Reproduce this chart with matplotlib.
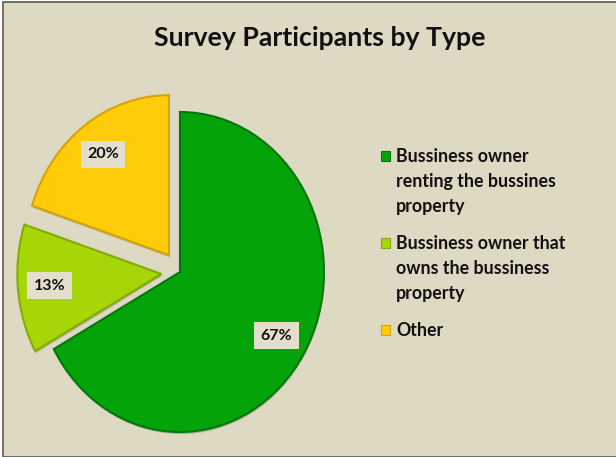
import matplotlib.pyplot as plt
import matplotlib.patheffects as pe
from matplotlib.patches import Rectangle

categories = [
    "Bussiness owner\nrenting the bussines\nproperty",
    "Bussiness owner that\nowns the bussiness\nproperty",
    "Other",
]
shares = [67, 13, 20]
explode = [0.0, 0.13, 0.13]
colors = ["#04A30A", "#A6D608", "#FFCC0A"]
edges = ["#02780A", "#84AA04", "#D6A400"]

W, H = 616, 457
fig = plt.figure(figsize=(W / 100, H / 100), dpi=100, facecolor="white")

# chart area with dark frame
fig.patches.append(Rectangle((3 / W, 0), 1, (H - 2) / H, transform=fig.transFigure, zorder=-10,
                             facecolor="#DDD9C3", edgecolor="#5A5A50", linewidth=1.2))

fig.text(320 / W, 1 - 38 / H, "Survey Participants by Type", ha="center", va="center",
         fontsize=19.2, fontweight="bold", family="Lato", color="#111111")

# pie is slightly taller than wide: 1 unit = 144 px across, 160 px down
cx, cy, rx, ry = 180, 272, 144, 160
xl, yl = 1.25, 1.15
ax = fig.add_axes([(cx - xl * rx) / W, (H - cy - yl * ry) / H, 2 * xl * rx / W, 2 * yl * ry / H])
ax.set_facecolor("none")

wedges, autotexts = ax.pie(shares, explode=explode, colors=colors, startangle=90, counterclock=False,
                           autopct=lambda p: f"{p:.0f}%", pctdistance=0.78, labels=None)[0::2]
ax.set_aspect("auto")
ax.set_xlim(-xl, xl)
ax.set_ylim(-yl, yl)
ax.axis("off")

for w, ec in zip(wedges, edges):
    w.set_edgecolor(ec)
    w.set_linewidth(1.5)
    w.set_path_effects([pe.SimplePatchShadow(offset=(0.5, -1.5), alpha=0.25, shadow_rgbFace="#333322"),
                        pe.Normal()])

for t in autotexts:
    t.set_fontsize(11.5)
    t.set_fontweight("bold")
    t.set_family("Lato")
    t.set_color("#111111")
    t.set_bbox(dict(boxstyle="square,pad=0.4", facecolor="#E3DFCC", edgecolor="none"))

# legend: square marker beside the first line of each entry
y = 162
for label, c, ec in zip(categories, colors, edges):
    fig.patches.append(Rectangle((381 / W, 1 - (y - 1) / H), 9 / W, 10 / H, transform=fig.transFigure,
                                 facecolor=c, edgecolor=ec, linewidth=0.8))
    for line in label.split("\n"):
        fig.text(396 / W, 1 - y / H, line, ha="left", va="baseline", fontsize=12.8,
                 fontweight="bold", family="Lato", color="#111111")
        y += 25
    y += 12

fig.savefig("out.png", dpi=100, facecolor=fig.get_facecolor())
